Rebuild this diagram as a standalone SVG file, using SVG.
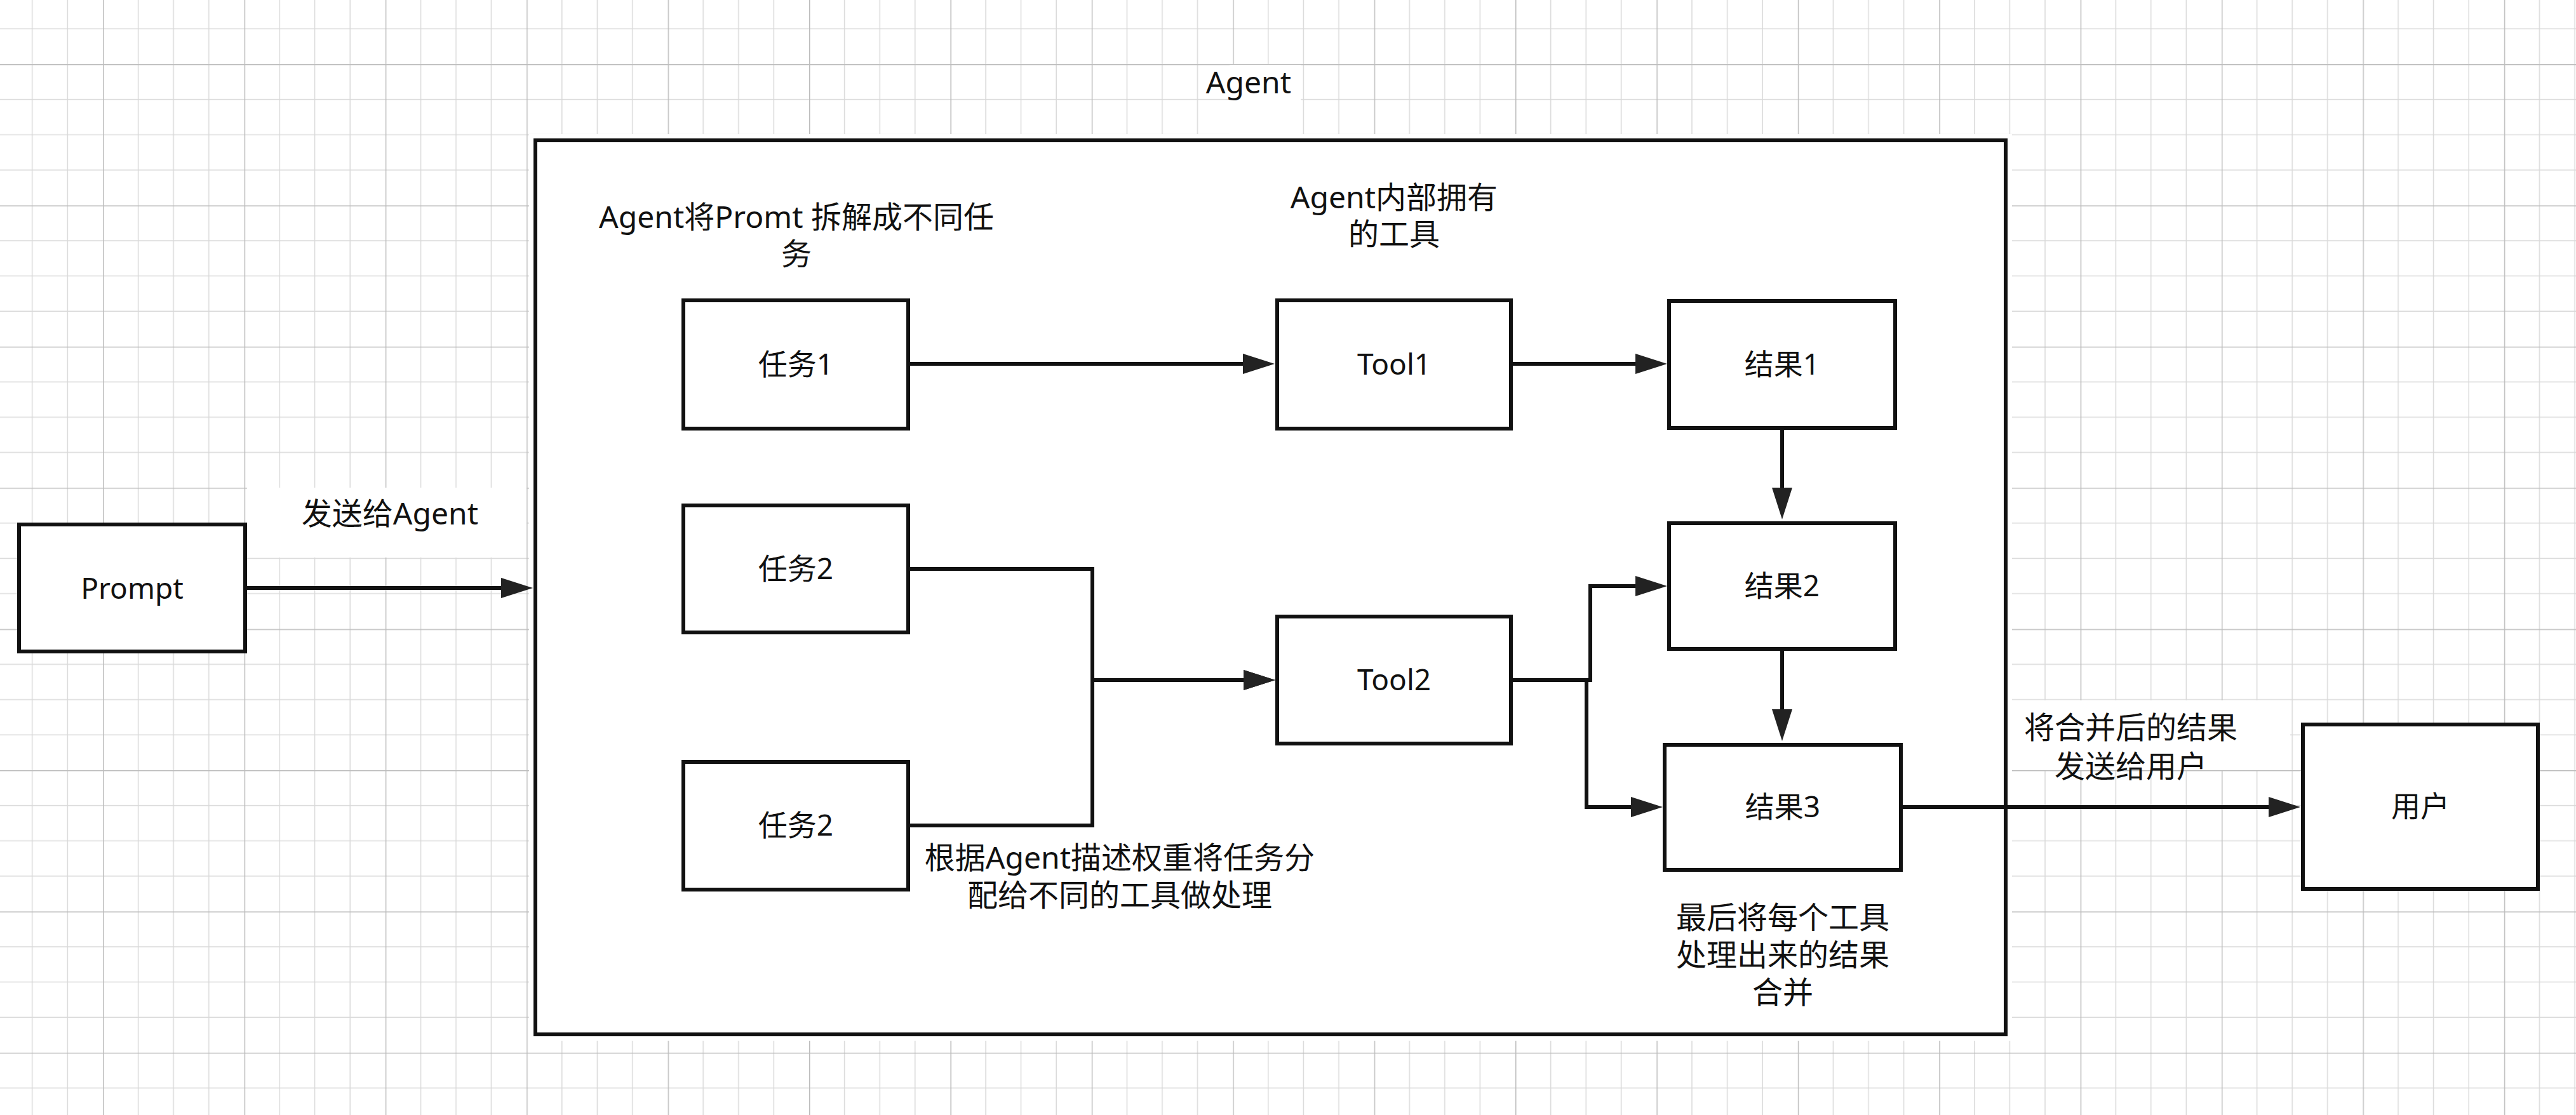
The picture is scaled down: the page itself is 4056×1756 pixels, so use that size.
<svg xmlns="http://www.w3.org/2000/svg" width="4056" height="1756" viewBox="0 0 4056 1756">
<style>
.box{fill:#fff;stroke:#111;stroke-width:6}
.edge{fill:none;stroke:#111;stroke-width:6}
.lbl{font-family:"Noto Sans","Noto Sans CJK SC",sans-serif;font-size:46px;fill:#111;text-anchor:middle}
.note{font-family:"Noto Sans","Noto Sans CJK SC",sans-serif;font-size:48px;fill:#111;text-anchor:middle}
.bg{fill:#fff;stroke:none}
</style>
<defs>
<pattern id="grid" patternUnits="userSpaceOnUse" x="162" y="101" width="222.4" height="222.4">
<path d="M55.6,0V222.4M111.2,0V222.4M166.8,0V222.4M0,55.6H222.4M0,111.2H222.4M0,166.8H222.4" stroke="#d9d9d9" stroke-width="1.5" fill="none"/>
<path d="M0.75,0V222.4M0,0.75H222.4" stroke="#bdbdbd" stroke-width="1.5" fill="none"/>
</pattern>
<marker id="arr" markerUnits="userSpaceOnUse" markerWidth="50" markerHeight="32" refX="1" refY="16" orient="auto">
<path d="M0,0L50,16L0,32z" fill="#222"/>
</marker>
</defs>
<rect width="4056" height="1756" fill="#fff"/>
<rect width="4056" height="1756" fill="url(#grid)"/>

<g id="agent">
<rect class="bg" x="833" y="211" width="2335" height="1428"/>
<rect class="box" x="843" y="221" width="2315" height="1408"/>
<rect class="bg" x="1936" y="102" width="112" height="114"/>
<text class="note" x="1966" y="147">Agent</text>
</g>

<g id="label-send-agent">
<rect class="bg" x="389" y="768" width="440" height="110"/>
<text class="note" x="614" y="826">发送给Agent</text>
</g>

<g id="note-split">
<text class="note" x="1254" y="359">Agent将Promt 拆解成不同任</text>
<text class="note" x="1254" y="417">务</text>
</g>
<g id="note-tools">
<text class="note" x="2195" y="328">Agent内部拥有</text>
<text class="note" x="2195" y="386">的工具</text>
</g>
<g id="note-assign">
<text class="note" x="1763" y="1368">根据Agent描述权重将任务分</text>
<text class="note" x="1763" y="1427">配给不同的工具做处理</text>
</g>
<g id="note-merge">
<text class="note" x="2807" y="1462">最后将每个工具</text>
<text class="note" x="2807" y="1521">处理出来的结果</text>
<text class="note" x="2807" y="1580">合并</text>
</g>
<g id="label-send-user">
<rect class="bg" x="3167" y="1103" width="439" height="110"/>
<text class="note" x="3355" y="1163">将合并后的结果</text>
<text class="note" x="3355" y="1224">发送给用户</text>
</g>

<g id="connectors">
<path class="edge" d="M386,926H790" marker-end="url(#arr)"/>
<path class="edge" d="M1430,573H1958" marker-end="url(#arr)"/>
<path class="edge" d="M2379,573H2576" marker-end="url(#arr)"/>
<path class="edge" d="M2806,675V769" marker-end="url(#arr)"/>
<path class="edge" d="M2806,1023V1118" marker-end="url(#arr)"/>
<path class="edge" d="M1430,896H1720V1071H1959" marker-end="url(#arr)"/>
<path class="edge" d="M1430,1300H1720V1071H1959" marker-end="url(#arr)"/>
<path class="edge" d="M2379,1071H2504V923H2576" marker-end="url(#arr)"/>
<path class="edge" d="M2379,1071H2498V1271H2569" marker-end="url(#arr)"/>
<path class="edge" d="M2993,1271H3573" marker-end="url(#arr)"/>
</g>

<g id="prompt"><rect class="box" x="30" y="826" width="356" height="200"/><text class="lbl" x="208" y="943">Prompt</text></g>
<g id="task1"><rect class="box" x="1076" y="473" width="354" height="202"/><text class="lbl" x="1253" y="590">任务1</text></g>
<g id="task2a"><rect class="box" x="1076" y="796" width="354" height="200"/><text class="lbl" x="1253" y="912">任务2</text></g>
<g id="task2b"><rect class="box" x="1076" y="1200" width="354" height="201"/><text class="lbl" x="1253" y="1316">任务2</text></g>
<g id="tool1"><rect class="box" x="2011" y="473" width="368" height="202"/><text class="lbl" x="2195" y="590">Tool1</text></g>
<g id="tool2"><rect class="box" x="2011" y="971" width="368" height="200"/><text class="lbl" x="2195" y="1087">Tool2</text></g>
<g id="result1"><rect class="box" x="2628" y="474" width="356" height="200"/><text class="lbl" x="2806" y="590">结果1</text></g>
<g id="result2"><rect class="box" x="2628" y="824" width="356" height="198"/><text class="lbl" x="2806" y="939">结果2</text></g>
<g id="result3"><rect class="box" x="2621" y="1173" width="372" height="197"/><text class="lbl" x="2807" y="1287">结果3</text></g>
<g id="user"><rect class="box" x="3626" y="1141" width="370" height="259"/><text class="lbl" x="3811" y="1286">用户</text></g>
</svg>
